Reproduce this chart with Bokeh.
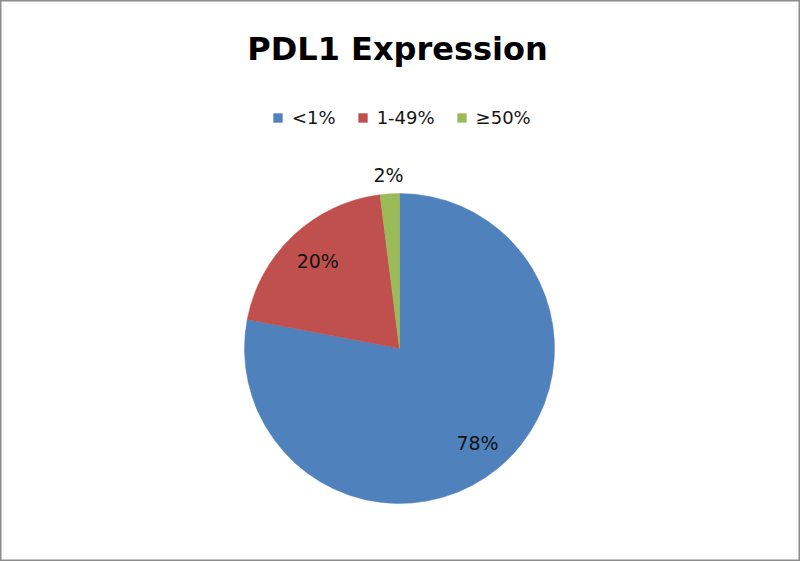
from math import pi, sin, cos
from bokeh.plotting import figure
from bokeh.models import ColumnDataSource, Range1d, Legend, LegendItem
from bokeh.core.properties import value
from bokeh.embed import file_html
from bokeh.resources import INLINE

# ---- data ----
categories = ["<1%", "1-49%", "\u226550%"]
percents = [78, 20, 2]
labels = ["78%", "20%", "2%"]
colors = ["#4F81BD", "#C0504D", "#9BBB59"]
label_radius_factor = [0.79, 0.77, 1.12]

W, H = 800, 561
cx, cy, R = 399, 213, 155

total = sum(percents)
starts, ends, lx, ly = [], [], [], []
cum = 0.0
for v, f in zip(percents, label_radius_factor):
    a0 = pi / 2 - 2 * pi * cum / total
    a1 = pi / 2 - 2 * pi * (cum + v) / total
    starts.append(a0)
    ends.append(a1)
    mid = (a0 + a1) / 2
    lx.append(cx + f * R * cos(mid))
    ly.append(cy + f * R * sin(mid))
    cum += v

src = ColumnDataSource(dict(cat=categories, pct=percents, start=starts, end=ends,
                            color=colors, lx=lx, ly=ly, label=labels))

p = figure(width=W, height=H, output_backend="svg", toolbar_location=None,
           x_range=Range1d(0, W), y_range=Range1d(0, H), min_border=0)
p.axis.visible = False
p.grid.visible = False
p.background_fill_color = "white"
p.border_fill_color = "white"
p.outline_line_color = "#8c8c8c"
p.outline_line_width = 2

r = p.wedge(x=cx, y=cy, radius=R, start_angle="start", end_angle="end",
            direction="clock", fill_color="color", line_color="color",
            line_width=0.5, source=src)

p.text(x="lx", y="ly", text="label", source=src, text_align="center",
       text_baseline="middle", text_font=value("DejaVu Sans"), text_font_size="19px",
       text_color="#141414")

p.text(x=[397], y=[513], text=["PDL1 Expression"], text_align="center",
       text_baseline="alphabetic", text_font=value("DejaVu Sans"), text_font_size="32px",
       text_font_style="bold", text_color="#000000")

items = [LegendItem(label=c, renderers=[r], index=i) for i, c in enumerate(categories)]
legend = Legend(items=items, orientation="horizontal", location=(272, 433),
                glyph_width=11, glyph_height=11, label_standoff=9, spacing=21,
                padding=0, margin=0, border_line_alpha=0, background_fill_alpha=0,
                label_text_font="DejaVu Sans", label_text_font_size="18px",
                label_text_color="#141414")
p.add_layout(legend, "center")

open("out.html", "w").write(file_html(p, INLINE))
